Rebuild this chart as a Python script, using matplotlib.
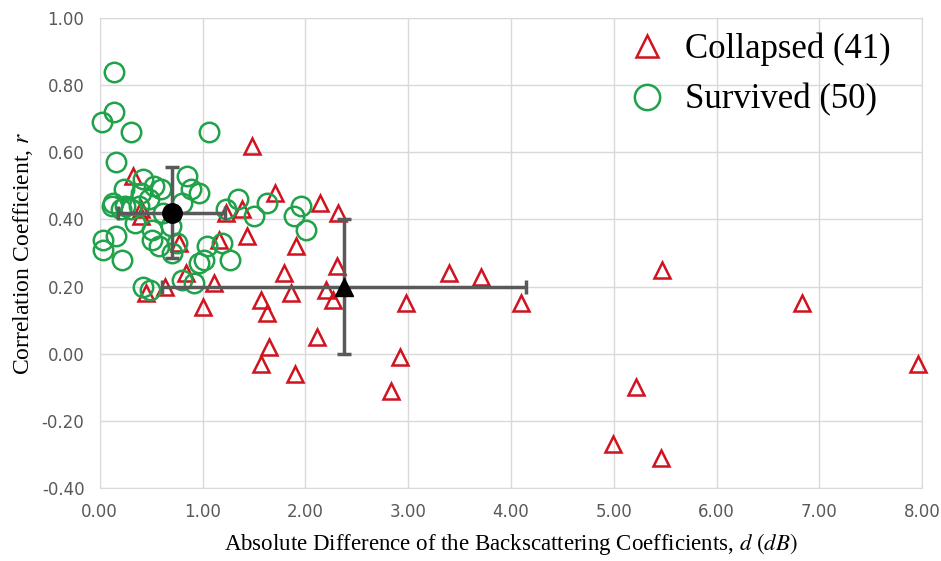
import numpy as np
import matplotlib
matplotlib.use('Agg')
import matplotlib.pyplot as plt
from matplotlib.ticker import FormatStrFormatter

plt.rcParams['mathtext.fontset'] = 'stix'

# Collapsed buildings (red triangles): d (dB), r
collapsed_d = [1.48, 1.70, 2.14, 2.32, 0.32, 0.40, 0.40, 1.23, 1.38, 1.16,
               1.43, 1.91, 0.77, 0.84, 0.45, 0.63, 1.11, 1.79, 1.86, 2.20,
               2.27, 2.31, 1.00, 1.57, 1.63, 1.65, 1.57, 1.90, 2.11, 2.83,
               2.92, 2.98, 3.40, 3.71, 4.10, 4.99, 5.22, 5.47, 5.46, 6.83,
               7.96]
collapsed_r = [0.62, 0.48, 0.45, 0.42, 0.53, 0.43, 0.41, 0.42, 0.43, 0.34,
               0.35, 0.32, 0.33, 0.24, 0.18, 0.20, 0.21, 0.24, 0.18, 0.19,
               0.16, 0.26, 0.14, 0.16, 0.12, 0.02, -0.03, -0.06, 0.05, -0.11,
               -0.01, 0.15, 0.24, 0.23, 0.15, -0.27, -0.10, 0.25, -0.31, 0.15,
               -0.03]

# Survived buildings (green circles)
survived_d = [0.14, 0.14, 0.02, 0.30, 1.06, 0.16, 0.42, 0.85, 0.53, 0.60,
              0.24, 0.40, 0.89, 0.97, 1.34, 1.63, 1.23, 1.50, 1.96, 1.89,
              2.01, 0.13, 0.12, 0.21, 0.30, 0.38, 0.80, 0.34, 0.51, 0.69,
              0.62, 0.03, 0.03, 0.16, 0.22, 0.51, 0.58, 0.75, 1.04, 1.19,
              1.27, 1.01, 0.97, 0.92, 0.80, 0.42, 0.49, 0.48, 0.70, 0.25]
survived_r = [0.84, 0.72, 0.69, 0.66, 0.66, 0.57, 0.52, 0.53, 0.50, 0.49,
              0.49, 0.48, 0.49, 0.48, 0.46, 0.45, 0.43, 0.41, 0.44, 0.41,
              0.37, 0.45, 0.44, 0.43, 0.43, 0.44, 0.45, 0.39, 0.37, 0.38,
              0.42, 0.34, 0.31, 0.35, 0.28, 0.34, 0.32, 0.33, 0.32, 0.33,
              0.28, 0.28, 0.27, 0.21, 0.22, 0.20, 0.19, 0.46, 0.30, 0.44]

# group means and standard deviations
surv_mean = (0.70, 0.42)
surv_err = (0.52, 0.135)
coll_mean = (2.38, 0.20)
coll_err = (1.77, 0.20)

red = '#D0131E'
green = '#1FA24A'
grey = '#595959'

fig = plt.figure(figsize=(9.41, 5.61), dpi=100)
ax = fig.add_axes([0.106, 0.130, 0.874, 0.838])

ax.plot(collapsed_d, collapsed_r, linestyle='none', marker='^', ms=12,
        mfc='none', mec=red, mew=1.8, label='Collapsed (41)', zorder=3,
        clip_on=False)
ax.plot(survived_d, survived_r, linestyle='none', marker='o', ms=14,
        mfc='none', mec=green, mew=1.8, label='Survived (50)', zorder=3,
        clip_on=False)

ax.errorbar(surv_mean[0], surv_mean[1], xerr=surv_err[0], yerr=surv_err[1],
            fmt='o', color='black', ms=14, ecolor=grey, elinewidth=2.5,
            capsize=5, capthick=2.5, zorder=4)
ax.errorbar(coll_mean[0], coll_mean[1], xerr=coll_err[0], yerr=coll_err[1],
            fmt='^', color='black', ms=13, ecolor=grey, elinewidth=2.5,
            capsize=5, capthick=2.5, zorder=4)

ax.set_xlim(0, 8)
ax.set_ylim(-0.4, 1.0)
ax.set_xticks(np.arange(0, 8.01, 1))
ax.set_yticks(np.arange(-0.4, 1.01, 0.2))
ax.xaxis.set_major_formatter(FormatStrFormatter('%.2f'))
ax.yaxis.set_major_formatter(FormatStrFormatter('%.2f'))
ax.tick_params(length=0, labelsize=12, labelcolor=grey, pad=11)
ax.grid(True, color='#D9D9D9', linewidth=1)
ax.set_axisbelow(True)
for s in ax.spines.values():
    s.set_color('#D9D9D9')

ax.set_xlabel('Absolute Difference of the Backscattering Coefficients, $d$ $(dB)$',
              family='Liberation Serif', fontsize=16.5, labelpad=7)
ax.set_ylabel('Correlation Coefficient, $r$', family='Liberation Serif',
              fontsize=17, labelpad=5)

ax.legend(loc='upper right', frameon=False, prop={'family': 'Liberation Serif', 'size': 25},
          markerscale=1.3, handletextpad=0.35, labelspacing=0.5, handlelength=1.5,
          bbox_to_anchor=(1.0, 1.035))

fig.savefig('out.png', dpi=100)
